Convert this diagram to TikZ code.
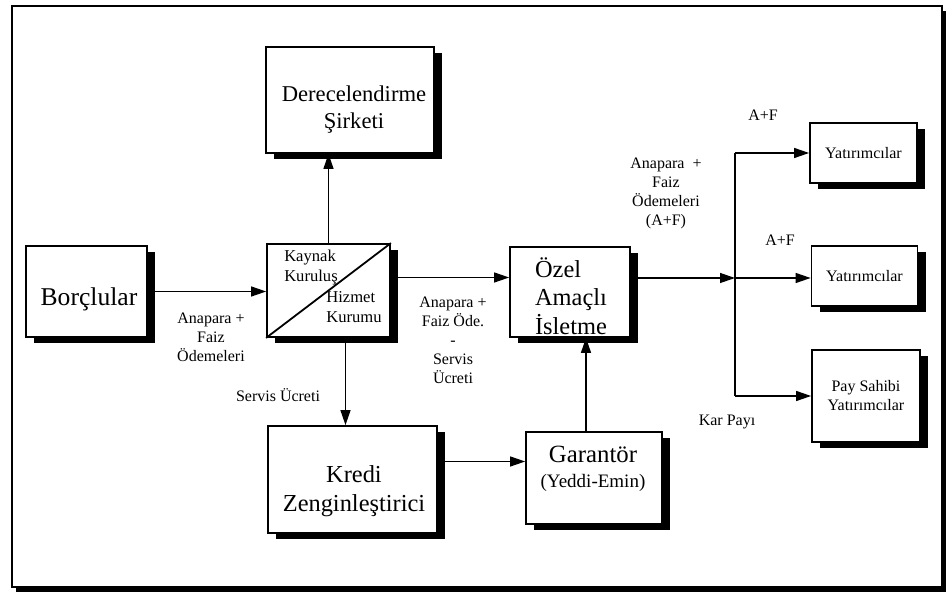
\documentclass[tikz,border=0pt]{standalone}
\usepackage{fontspec}
\setmainfont{Liberation Serif}
\usetikzlibrary{arrows.meta,shadows}

\begin{document}
\begin{tikzpicture}[x=0.5pt, y=-0.5pt,
  box/.style={draw, line width=0.9pt, fill=white, align=center, inner sep=1pt,
    drop shadow={shadow xshift=4pt, shadow yshift=-3pt, fill=black, opacity=1}},
  arr/.style={line width=0.65pt, -{Triangle[length=7.5pt,width=5pt]}},
  lbl/.style={font=\fontsize{8}{9.5}\selectfont, align=center},
  big/.style={font=\fontsize{12.2}{14.2}\selectfont, align=center}]
\useasboundingbox (0,0) rectangle (950,598);
\draw[line width=0.9pt, fill=white,
  drop shadow={shadow xshift=2pt, shadow yshift=-2.5pt, fill=black, opacity=1}]
  (12,6) rectangle (942,587);

\node[box, minimum width=84pt, minimum height=53pt] (sirket) at (350,100) {};
\node[font=\fontsize{11.3}{13.5}\selectfont, align=center] (stxt) at (354,110) {Derecelendirme\\Şirketi};
\node[box, minimum width=60.5pt, minimum height=45.5pt] (borc) at (86.5,291.5) {};
\node[big, font=\fontsize{12.8}{14.2}\selectfont] (btxt) at (89,299) {Borçlular};
\node[box, minimum width=61.5pt, minimum height=46.5pt] (kaynak) at (328.5,290.5) {};
\draw[line width=0.9pt] (kaynak.south west) -- (kaynak.north east);
\node[align=left, font=\fontsize{8.3}{10}\selectfont] (kk) at (311,268) {Kaynak\\Kuruluş};
\node[align=left, font=\fontsize{8.3}{10}\selectfont] (hk) at (354,307.5) {Hizmet\\Kurumu};
\node[box, minimum width=60pt, minimum height=45pt] (ozel) at (570,292) {};
\node[big, align=left] (otxt) at (571,296) {Özel\\Amaçlı\\İsletme};
\node[box, minimum width=84.5pt, minimum height=53.5pt] (kredi) at (352.5,479.5) {};
\node[big] (ktxt) at (354,491) {Kredi\\Zenginleştirici};
\node[box, minimum width=68pt, minimum height=46pt] (garantor) at (594,478) {};
\node[font=\fontsize{12.4}{12.5}\selectfont, align=center] (gtxt) at (593,469) {Garantör\\{\fontsize{9.5}{11}\selectfont(Yeddi-Emin)}};
\node[box, minimum width=53.5pt, minimum height=30pt, lbl] (yat1) at (863.5,153) {Yatırımcılar};
\node[box, minimum width=53pt, minimum height=30pt, lbl] (yat2) at (864.5,276) {Yatırımcılar};
\node[box, minimum width=54pt, minimum height=46pt, lbl] (pay) at (866,396) {Pay Sahibi\\Yatırımcılar};

\node[lbl] (af1) at (211,337) {Anapara +\\Faiz\\Ödemeleri};
\node[lbl] (af2) at (453,340) {Anapara +\\Faiz Öde.\\-\\Servis\\Ücreti};
\node[lbl] (su) at (278,395) {Servis Ücreti};
\node[lbl] (af3) at (666,193) {Anapara \ +\\Faiz\\Ödemeleri\\(A+F)};
\node[lbl] (af4) at (763,115) {A+F};
\node[lbl] (af5) at (780,240) {A+F};
\node[lbl] (kar) at (727,422) {Kar Payı};

\coordinate (br) at (735,278);
\draw[arr] (borc.east) -- (borc.east -| kaynak.west);
\draw[arr] (kaynak.north) -- (kaynak.north |- sirket.south);
\draw[arr] ([xshift=8.5pt]kaynak.south) -- ([xshift=8.5pt]kaynak.south |- kredi.north);
\draw[arr] ([yshift=6.5pt]kaynak.east) -- ([yshift=6.5pt]kaynak.east -| ozel.west);
\draw[arr] ([yshift=9pt]kredi.east) -- ([yshift=9pt]kredi.east -| garantor.west);
\draw[arr] ([xshift=-4pt]garantor.north) -- ([xshift=-4pt]garantor.north |- ozel.south);
\draw[arr] (br -| ozel.east) -- (br);
\draw[arr] (br) -- (br -| yat2.west);
\draw[line width=0.65pt] (br |- yat1.west) -- (br |- pay.west);
\draw[arr] (br |- yat1.west) -- (yat1.west);
\draw[arr] (br |- pay.west) -- (pay.west);
\end{tikzpicture}
\end{document}
